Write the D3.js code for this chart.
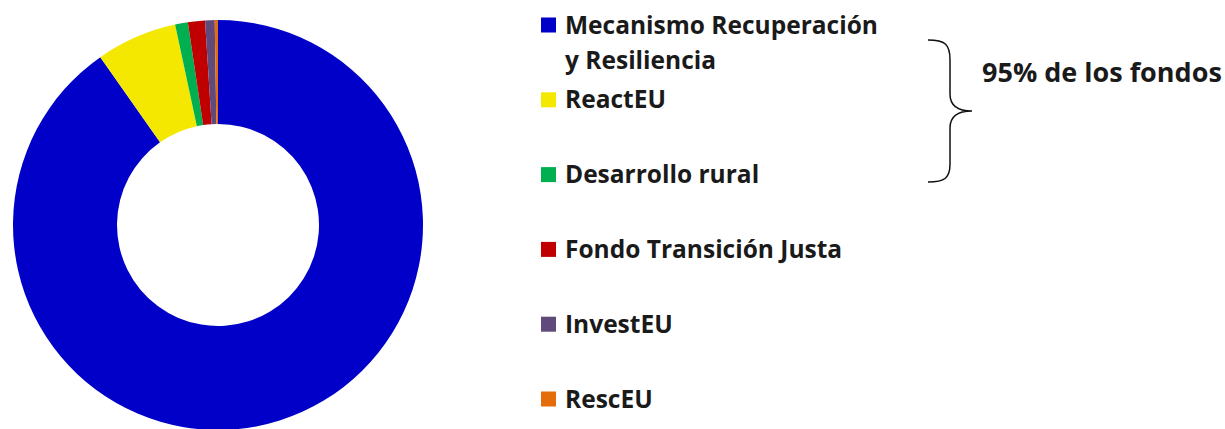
<!DOCTYPE html>
<html>
<head>
<meta charset="utf-8">
<script src="https://cdn.jsdelivr.net/npm/d3@7"></script>
<style>
  body { margin: 0; background: #fff; }
  text { font-family: "Open Sans", sans-serif; font-weight: bold; fill: #1a1a1a; }
</style>
</head>
<body>
<div id="chart"></div>
<script>
// Next Generation EU components (billion EUR)
const categories = ["Mecanismo Recuperación y Resiliencia", "ReactEU", "Desarrollo rural",
                    "Fondo Transición Justa", "InvestEU", "RescEU"];
const values = [672.5, 47.5, 7.5, 10, 5.6, 1.9];
const colors = ["#0000c8", "#f5e800", "#00b050", "#c00000", "#604a7b", "#e46c0a"];
const bracketLabel = "95% de los fondos";

const width = 1225, height = 429;

const svg = d3.select("#chart").append("svg")
    .attr("width", width)
    .attr("height", height);

// donut
const cx = 218, cy = 225, outerR = 205, innerR = 101;
const pie = d3.pie().sort(null).value(d => d.value);
const arc = d3.arc().innerRadius(innerR).outerRadius(outerR);
const data = categories.map((c, i) => ({name: c, value: values[i], color: colors[i]}));

svg.append("g")
    .attr("transform", `translate(${cx},${cy})`)
  .selectAll("path")
  .data(pie(data))
  .join("path")
    .attr("d", arc)
    .attr("fill", d => d.data.color);

// legend
const legendY = d3.scalePoint().domain(categories).range([25, 399]);
const legend = svg.append("g");
const item = legend.selectAll("g")
  .data(data)
  .join("g")
    .attr("transform", d => `translate(541,${legendY(d.name)})`);

item.append("rect")
    .attr("x", 0).attr("y", -7.5)
    .attr("width", 15).attr("height", 15)
    .attr("fill", d => d.color);

item.append("text")
    .attr("x", 24)
    .attr("y", 8.5)
    .style("font-size", "24.5px")
    .each(function(d, i) {
      const t = d3.select(this);
      if (i === 0) {
        t.append("tspan").attr("x", 24).text("Mecanismo Recuperación");
        t.append("tspan").attr("x", 24).attr("dy", 35).text("y Resiliencia");
      } else {
        t.text(d.name);
      }
    });

// bracket
svg.append("path")
    .attr("d", "M928,40 C945,40 950,44 950,60 L950,94 C950,106 958,111 972,111 " +
               "C958,111 950,116 950,128 L950,164 C950,178 945,182 928,182")
    .attr("fill", "none")
    .attr("stroke", "#111")
    .attr("stroke-width", 1.5);

svg.append("text")
    .attr("x", 982)
    .attr("y", 82)
    .style("font-size", "27px")
    .text(bracketLabel);
</script>
</body>
</html>
